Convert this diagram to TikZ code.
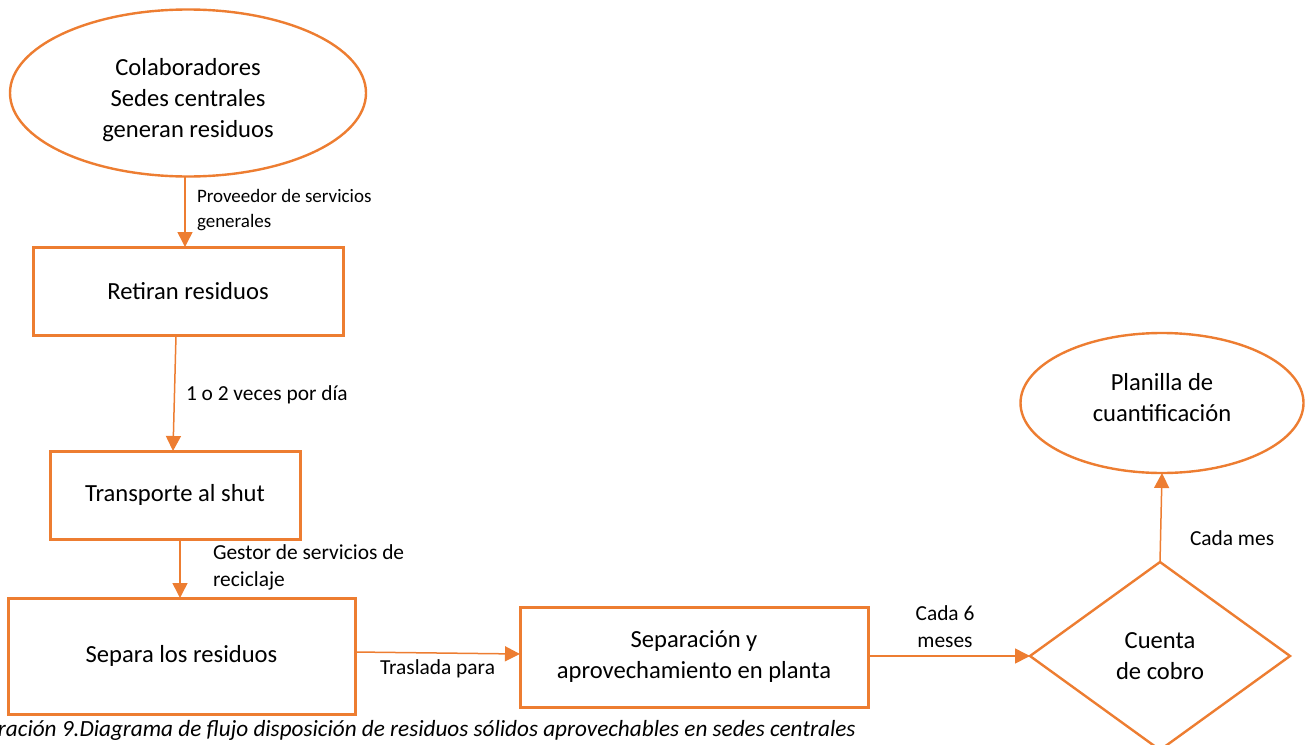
\documentclass[tikz,border=0pt]{standalone}
\usepackage{fontspec}
\setmainfont{Carlito}
\usetikzlibrary{shapes.geometric,arrows.meta,calc}
\definecolor{accent}{HTML}{ED7D31}

\begin{document}
\begin{tikzpicture}[x=1pt,y=-1pt,
  every node/.style={inner sep=0pt, outer sep=0pt},
  boxtext/.style={align=center, font=\fontsize{24.6}{31}\selectfont},
  proc/.style={boxtext, draw=accent, line width=3pt, fill=white},
  term/.style={ellipse, draw=accent, line width=2.4pt, fill=white},
  decision/.style={boxtext, diamond, draw=accent, line width=2.4pt, fill=white},
  flow/.style={draw=accent, line width=1.5pt, -{Triangle[length=15pt,width=15pt]}},
  lbl/.style={align=left, font=\fontsize{21.4}{27}\selectfont},
  smalllbl/.style={align=left, font=\fontsize{19}{25}\selectfont},
  capstyle/.style={font=\itshape\fontsize{23.2}{27}\selectfont}
]
\useasboundingbox (0,0) rectangle (1308,744);
\clip (0,0) rectangle (1308,744);

% connector labels
\node[smalllbl, anchor=west] (lprov) at (197,210) {Proveedor de servicios\\generales};
\node[lbl, anchor=west] (lveces) at (186,395) {1 o 2 veces por día};
\begin{scope}
  \clip (200,530) rectangle (460,591);
  \node[lbl, anchor=west] (lgestor) at (213,567) {Gestor de servicios de\\reciclaje};
\end{scope}
\node[lbl, anchor=west] (ltraslada) at (380,669) {Traslada para};
\node[lbl, align=center] (lseis) at (945,627) {Cada 6\\meses};
\node[lbl, anchor=west] (lmes) at (1190,538) {Cada mes};

% process nodes
\node[term, minimum width=356pt, minimum height=167pt] (colab) at (188,93) {};
\node[boxtext] (colabtext) at (188,100) {Colaboradores\\Sedes centrales\\generan residuos};
\node[proc, minimum width=310pt, minimum height=88pt] (retiran) at (188,291) {Retiran residuos};
\node[proc, minimum width=250pt, minimum height=88pt] (transp) at (175,495) {Transporte al shut};
\node[proc, minimum width=347pt, minimum height=116pt] (separa) at (181.5,656) {Separa los residuos};
\node[proc, minimum width=348pt, minimum height=100pt] (separacion) at (694,657)
  {Separación y\\aprovechamiento en planta};
\node[decision, minimum width=260pt, minimum height=188pt] (cobro) at (1160,656) {Cuenta\\de cobro};
\node[term, minimum width=283pt, minimum height=140pt] (planilla) at (1162,403) {};
\node[boxtext] (planillatext) at (1162,398) {Planilla de\\cuantificación};

% flow connectors
\draw[flow] ([xshift=-3pt]colab.south) -- ([xshift=-3pt]retiran.north);
\draw[flow] ([xshift=-12pt]retiran.south) -- ([xshift=-2pt]transp.north);
\draw[flow] ([xshift=5pt]transp.south) -- ([xshift=-1.5pt]separa.north);
\draw[flow] ([yshift=4pt]separa.east) -- ([yshift=3pt]separacion.west);
\draw[flow] ([yshift=1pt]separacion.east) -- (cobro.west);
\draw[flow] (cobro.north) -- (planilla.south);

% caption
\node[capstyle, anchor=west] (caption) at (-2,730)
  {ración 9.Diagrama de flujo disposición de residuos sólidos aprovechables en sedes centrales};
\end{tikzpicture}
\end{document}
